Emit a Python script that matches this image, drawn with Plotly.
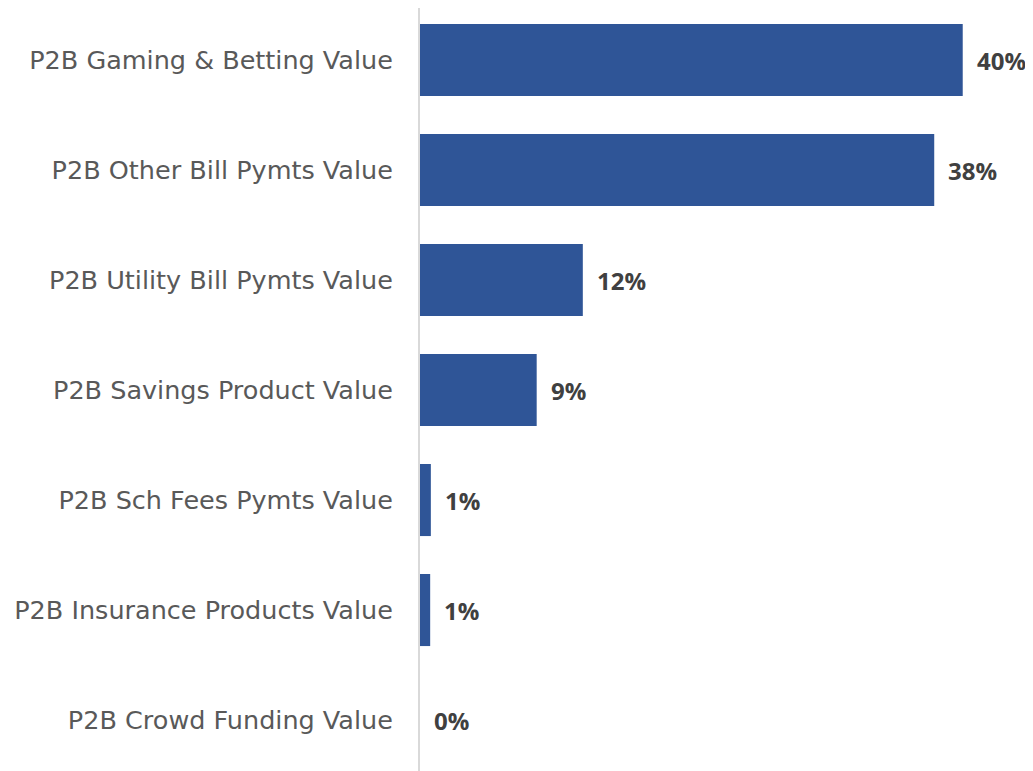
import plotly.graph_objects as go

categories = [
    "P2B Gaming & Betting Value",
    "P2B Other Bill Pymts Value",
    "P2B Utility Bill Pymts Value",
    "P2B Savings Product Value",
    "P2B Sch Fees Pymts Value",
    "P2B Insurance Products Value",
    "P2B Crowd Funding Value",
]
values = [0.400, 0.379, 0.120, 0.086, 0.008, 0.0075, 0.0]
labels = ["40%", "38%", "12%", "9%", "1%", "1%", "0%"]

fig = go.Figure()
fig.add_trace(go.Bar(
    y=categories,
    x=values,
    orientation="h",
    marker=dict(color="#2F5597", line=dict(width=0)),
    hoverinfo="x+y",
))

for c, v, t in zip(categories, values, labels):
    fig.add_annotation(
        x=v, y=c, text="<b>" + t + "</b>", showarrow=False,
        xanchor="left", xshift=12,
        font=dict(family="Open Sans, sans-serif", size=24, color="#404040"),
    )

fig.update_layout(
    width=1033, height=771,
    margin=dict(l=412, r=24, t=0, b=0),
    paper_bgcolor="white", plot_bgcolor="white",
    bargap=0.345,
    showlegend=False,
    xaxis=dict(range=[0, 0.44], showgrid=False, zeroline=False,
               showticklabels=False, showline=False, fixedrange=True),
    yaxis=dict(range=[6.536, -0.473], showgrid=False, zeroline=False,
               showline=True, linecolor="#D9D9D9", linewidth=2,
               ticks="", ticklabelstandoff=20,
               tickfont=dict(family="DejaVu Sans, sans-serif", size=25.5, color="#595959")),
)

fig.write_html("out.html")
